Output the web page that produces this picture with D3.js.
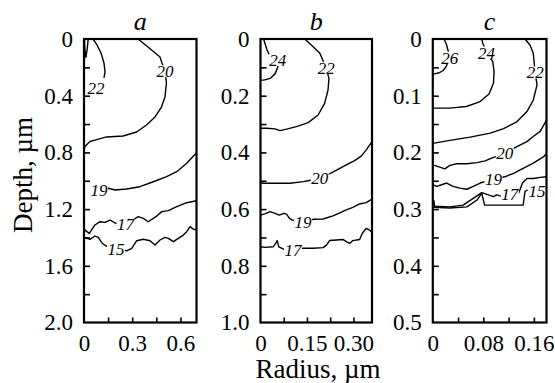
<!DOCTYPE html>
<html><head><meta charset="utf-8">
<script src="https://cdn.jsdelivr.net/npm/d3@7"></script>
</head><body style="margin:0">
<svg id="s" width="555" height="383" font-family="Liberation Serif"></svg>
<script>
// panel titles and axis ranges
const panelNames = ["a", "b", "c"];
const radiusMax = [0.7, 0.36, 0.18];
const depthMax = [2.0, 1.0, 0.5];

// tick positions (minor + major) and the labelled ones
const radiusTicksA = [0.15, 0.3, 0.45, 0.6];
const radiusTicksB = [0.075, 0.15, 0.225, 0.3];
const radiusTicksC = [0.04, 0.08, 0.12, 0.16];
const radiusLabelsA = ["0", "0.3", "0.6"];
const radiusLabelsB = ["0", "0.15", "0.30"];
const radiusLabelsC = ["0", "0.08", "0.16"];

const depthTicksA = [0.2, 0.4, 0.6, 0.8, 1.0, 1.2, 1.4, 1.6, 1.8];
const depthTicksB = [0.1, 0.2, 0.3, 0.4, 0.5, 0.6, 0.7, 0.8, 0.9];
const depthTicksC = [0.05, 0.1, 0.15, 0.2, 0.25, 0.3, 0.35, 0.4, 0.45];
const depthLabelsA = ["0", "0.4", "0.8", "1.2", "1.6", "2.0"];
const depthLabelsB = ["0", "0.2", "0.4", "0.6", "0.8", "1.0"];
const depthLabelsC = ["0", "0.1", "0.2", "0.3", "0.4", "0.5"];

// contour lines: [radius, depth]; label = where the level number sits
const contoursA = [
  {level: "24", label: null, pts: [[0.003, 0], [0.005, 0.07], [0.012, 0.13], [0.02, 0.07], [0.026, 0]]},
  {level: "22", label: [0.075, 0.346], pts: [[0.056, 0], [0.081, 0.042], [0.106, 0.099], [0.124, 0.169], [0.131, 0.233], [0.124, 0.275]]},
  {level: "20", label: [0.504, 0.226], pts: [[0.336, 0], [0.398, 0.056], [0.473, 0.127], [0.485, 0.169], [0.504, 0.226], [0.513, 0.310], [0.504, 0.409], [0.482, 0.480], [0.442, 0.550], [0.389, 0.607], [0.327, 0.656], [0.243, 0.684], [0.140, 0.691], [0.068, 0.713], [0.037, 0.723], [0.006, 0.758], [0, 0.783]]},
  {level: "19", label: [0.093, 1.065], pts: [[0.093, 1.065], [0.151, 1.053], [0.193, 1.065], [0.265, 1.058], [0.348, 1.042], [0.431, 1.007], [0.514, 0.971], [0.577, 0.936], [0.639, 0.877], [0.7, 0.802]]},
  {level: "17", label: [0.258, 1.305], pts: [[0, 1.343], [0.033, 1.371], [0.068, 1.312], [0.100, 1.289], [0.131, 1.294], [0.162, 1.277], [0.193, 1.298], [0.258, 1.305], [0.338, 1.253], [0.369, 1.265], [0.400, 1.289], [0.452, 1.249], [0.484, 1.218], [0.525, 1.211], [0.577, 1.183], [0.639, 1.155], [0.7, 1.141]]},
  {level: "15", label: [0.199, 1.481], pts: [[0, 1.399], [0.037, 1.413], [0.068, 1.390], [0.089, 1.399], [0.110, 1.437], [0.137, 1.460], [0.199, 1.481], [0.266, 1.494], [0.297, 1.477], [0.328, 1.423], [0.369, 1.413], [0.411, 1.423], [0.442, 1.453], [0.473, 1.418], [0.504, 1.399], [0.525, 1.406], [0.556, 1.430], [0.587, 1.406], [0.618, 1.383], [0.639, 1.359], [0.660, 1.324], [0.681, 1.342], [0.7, 1.347]]}
];

const contoursB = [
  {level: "24", label: [0.056, 0.074], pts: [[0.010, 0], [0.021, 0.039], [0.031, 0.060], [0.056, 0.074], [0.056, 0.099], [0.047, 0.123], [0.031, 0.139], [0.011, 0.145], [0, 0.145]]},
  {level: "22", label: [0.212, 0.102], pts: [[0.143, 0], [0.170, 0.027], [0.191, 0.049], [0.212, 0.102], [0.221, 0.139], [0.218, 0.180], [0.207, 0.227], [0.186, 0.268], [0.154, 0.295], [0.116, 0.309], [0.084, 0.318], [0.063, 0.323], [0.047, 0.317], [0.020, 0.315], [0, 0.315]]},
  {level: "20", label: [0.191, 0.490], pts: [[0, 0.507], [0.011, 0.509], [0.052, 0.509], [0.095, 0.509], [0.138, 0.503], [0.154, 0.500], [0.191, 0.490], [0.229, 0.472], [0.250, 0.460], [0.277, 0.444], [0.304, 0.429], [0.325, 0.413], [0.341, 0.392], [0.36, 0.362]]},
  {level: "19", label: [0.137, 0.647], pts: [[0, 0.621], [0.014, 0.617], [0.031, 0.609], [0.047, 0.615], [0.060, 0.621], [0.076, 0.615], [0.084, 0.618], [0.093, 0.632], [0.101, 0.638], [0.137, 0.647], [0.170, 0.636], [0.202, 0.635], [0.234, 0.624], [0.256, 0.613], [0.277, 0.603], [0.298, 0.594], [0.320, 0.582], [0.341, 0.577], [0.36, 0.565]]},
  {level: "17", label: [0.105, 0.744], pts: [[0, 0.733], [0.014, 0.735], [0.041, 0.733], [0.050, 0.719], [0.054, 0.711], [0.059, 0.733], [0.068, 0.738], [0.076, 0.742], [0.105, 0.744], [0.138, 0.738], [0.170, 0.738], [0.202, 0.736], [0.213, 0.727], [0.223, 0.711], [0.245, 0.709], [0.266, 0.707], [0.277, 0.715], [0.288, 0.721], [0.298, 0.711], [0.320, 0.707], [0.329, 0.685], [0.341, 0.668], [0.352, 0.674], [0.36, 0.683]]}
];

const contoursC = [
  {level: "26", label: [0.027, 0.033], pts: [[0.018, 0], [0.022, 0.011], [0.027, 0.033], [0.021, 0.049], [0.016, 0.056], [0.009, 0.060], [0, 0.062]]},
  {level: "24", label: [0.085, 0.024], pts: [[0.0775, 0], [0.079, 0.007], [0.085, 0.024], [0.095, 0.040], [0.097, 0.058], [0.096, 0.078], [0.089, 0.097], [0.074, 0.111], [0.053, 0.119], [0.027, 0.122], [0, 0.122]]},
  {level: "22", label: [0.162, 0.059], pts: [[0.146, 0], [0.154, 0.011], [0.159, 0.025], [0.162, 0.059], [0.165, 0.081], [0.159, 0.108], [0.149, 0.128], [0.133, 0.146], [0.112, 0.158], [0.091, 0.166], [0.059, 0.173], [0.032, 0.178], [0, 0.184]]},
  {level: "20", label: [0.114, 0.202], pts: [[0, 0.222], [0.011, 0.226], [0.019, 0.229], [0.027, 0.223], [0.038, 0.220], [0.054, 0.220], [0.070, 0.218], [0.083, 0.215], [0.093, 0.210], [0.114, 0.202], [0.133, 0.190], [0.149, 0.181], [0.159, 0.172], [0.170, 0.163], [0.18, 0.143]]},
  {level: "19", label: [0.096, 0.247], pts: [[0, 0.257], [0.006, 0.260], [0.014, 0.257], [0.022, 0.254], [0.032, 0.260], [0.043, 0.263], [0.054, 0.265], [0.064, 0.260], [0.075, 0.254], [0.096, 0.247], [0.114, 0.243], [0.128, 0.237], [0.143, 0.228], [0.159, 0.219], [0.175, 0.208], [0.18, 0.202]]},
  {level: "17", label: [0.122, 0.273], pts: [[0.0016, 0.284], [0.003, 0.295], [0.027, 0.296], [0.048, 0.293], [0.064, 0.281], [0.0775, 0.271], [0.088, 0.275], [0.096, 0.278], [0.101, 0.275], [0.108, 0.277], [0.122, 0.273], [0.134, 0.277], [0.138, 0.266], [0.142, 0.254], [0.149, 0.246], [0.159, 0.246], [0.170, 0.244], [0.18, 0.243]]},
  {level: "15", label: [0.165, 0.268], pts: [[0, 0.297], [0.027, 0.298], [0.054, 0.296], [0.070, 0.284], [0.0775, 0.272], [0.082, 0.293], [0.101, 0.293], [0.122, 0.293], [0.143, 0.293], [0.146, 0.269], [0.150, 0.266]]}
];

// layout
const panelLeft = [84, 260.5, 432.8];
const panelWidth = [112.5, 111.5, 113.7];
const panelTop = 39;
const panelHeight = 283.5;

const panels = [
  {radiusTicks: radiusTicksA, radiusLabels: radiusLabelsA, depthTicks: depthTicksA, depthLabels: depthLabelsA, contours: contoursA},
  {radiusTicks: radiusTicksB, radiusLabels: radiusLabelsB, depthTicks: depthTicksB, depthLabels: depthLabelsB, contours: contoursB},
  {radiusTicks: radiusTicksC, radiusLabels: radiusLabelsC, depthTicks: depthTicksC, depthLabels: depthLabelsC, contours: contoursC}
];

const svg = d3.select("#s");

function styleAxis(g) {
  g.attr("font-family", "Liberation Serif").attr("font-size", 23);
  g.selectAll("text").attr("fill", "#000");
  g.select(".domain").remove();
  g.selectAll("line").attr("stroke", "#000").attr("stroke-width", 1.6);
}

panels.forEach((p, i) => {
  const g = svg.append("g")
    .attr("transform", "translate(" + panelLeft[i] + "," + panelTop + ")");

  const x = d3.scaleLinear().domain([0, radiusMax[i]]).range([0, panelWidth[i]]);
  const y = d3.scaleLinear().domain([0, depthMax[i]]).range([0, panelHeight]);

  // inward ticks
  g.append("g")
    .call(d3.axisLeft(y).tickValues(p.depthTicks).tickSizeInner(-6).tickSizeOuter(0).tickFormat(""))
    .call(styleAxis);
  g.append("g")
    .attr("transform", "translate(0," + panelHeight + ")")
    .call(d3.axisBottom(x).tickValues(p.radiusTicks).tickSizeInner(-5).tickSizeOuter(0).tickFormat(""))
    .call(styleAxis);

  // tick labels
  g.append("g")
    .call(d3.axisLeft(y).tickValues(p.depthLabels.map(Number)).tickSize(0).tickPadding(11)
      .tickFormat((d, k) => p.depthLabels[k]))
    .call(styleAxis);
  g.append("g")
    .attr("transform", "translate(0," + panelHeight + ")")
    .call(d3.axisBottom(x).tickValues(p.radiusLabels.map(Number)).tickSize(0).tickPadding(12)
      .tickFormat((d, k) => p.radiusLabels[k]))
    .call(styleAxis);

  // contours
  const line = d3.line().x(d => x(d[0])).y(d => y(d[1]));
  g.selectAll("path.contour")
    .data(p.contours)
    .join("path")
    .attr("class", "contour")
    .attr("d", d => line(d.pts))
    .attr("fill", "none")
    .attr("stroke", "#000")
    .attr("stroke-width", 1.4)
    .attr("stroke-linejoin", "round");

  // level numbers, with a white patch breaking the line
  const lab = g.selectAll("g.lab")
    .data(p.contours.filter(c => c.label))
    .join("g")
    .attr("class", "lab")
    .attr("transform", d => "translate(" + x(d.label[0]) + "," + y(d.label[1]) + ")");
  lab.append("rect")
    .attr("fill", "#fff")
    .attr("x", -9).attr("y", -6)
    .attr("width", 18).attr("height", 12);
  lab.append("text")
    .attr("text-anchor", "middle")
    .attr("dy", "0.35em")
    .attr("font-family", "Liberation Serif")
    .attr("font-size", 17)
    .attr("font-style", "italic")
    .text(d => d.level);

  // frame
  g.append("rect")
    .attr("width", panelWidth[i]).attr("height", panelHeight)
    .attr("fill", "none").attr("stroke", "#000").attr("stroke-width", 2.2);

  // panel title
  g.append("text")
    .attr("x", panelWidth[i] / 2).attr("y", -9)
    .attr("text-anchor", "middle")
    .attr("font-family", "Liberation Serif")
    .attr("font-size", 26)
    .attr("font-style", "italic")
    .text(panelNames[i]);
});

// axis titles
svg.append("text")
  .attr("x", 318).attr("y", 378)
  .attr("text-anchor", "middle")
  .attr("font-family", "Liberation Serif")
  .attr("font-size", 27)
  .text("Radius, µm");

svg.append("text")
  .attr("transform", "translate(32,175) rotate(-90)")
  .attr("text-anchor", "middle")
  .attr("font-family", "Liberation Serif")
  .attr("font-size", 27)
  .text("Depth, µm");
</script></body></html>
